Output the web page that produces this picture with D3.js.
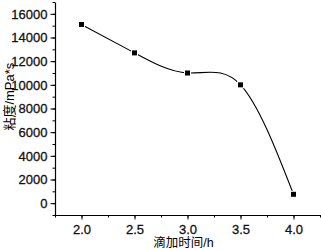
<!DOCTYPE html>
<html>
<head>
<meta charset="utf-8">
<script src="https://cdn.jsdelivr.net/npm/d3@7"></script>
<style>
  body { margin: 0; background: #fff; }
  text { font-family: "Liberation Sans", Arial, sans-serif; }
</style>
</head>
<body>
<div id="chart"></div>
<script>
// data
const times = [2.0, 2.5, 3.0, 3.5, 4.0];
const viscosity = [15100, 12700, 11000, 10000, 750];
const xTicks = [2.0, 2.5, 3.0, 3.5, 4.0];
const yTicks = [0, 2000, 4000, 6000, 8000, 10000, 12000, 14000, 16000];
const xTitle = "滴加时间/h";
const yTitle = "粘度/mPa*s";

const width = 321, height = 250;
const margin = { top: 2, right: 1, bottom: 35, left: 55 };

const svg = d3.select("#chart").append("svg")
  .attr("width", width)
  .attr("height", height);

// scales
const x = d3.scaleLinear()
  .domain([1.75, 4.25])
  .range([margin.left, width - margin.right]);

const y = d3.scaleLinear()
  .domain([-1000, 17000])
  .range([height - margin.bottom, margin.top]);

// minor ticks first
svg.append("g")
  .attr("transform", `translate(0,${height - margin.bottom})`)
  .call(d3.axisBottom(x).tickValues(d3.range(1.75, 4.26, 0.25)).tickSize(2.5).tickFormat(""))
  .call(g => g.select(".domain").remove());

svg.append("g")
  .attr("transform", `translate(${margin.left},0)`)
  .call(d3.axisLeft(y).tickValues(d3.range(-1000, 17001, 1000)).tickSize(2.5).tickFormat(""))
  .call(g => g.select(".domain").remove());

// major axes
const xAxis = svg.append("g")
  .attr("transform", `translate(0,${height - margin.bottom})`)
  .call(d3.axisBottom(x).tickValues(xTicks).tickSize(4.5).tickSizeOuter(0).tickPadding(5)
    .tickFormat(d3.format(".1f")));

const yAxis = svg.append("g")
  .attr("transform", `translate(${margin.left},0)`)
  .call(d3.axisLeft(y).tickValues(yTicks).tickSize(4.5).tickSizeOuter(0).tickPadding(3)
    .tickFormat(d3.format("d")));

[xAxis, yAxis].forEach(g => {
  g.selectAll("text")
    .style("font-size", "13px")
    .style("font-family", "'Liberation Sans', Arial, sans-serif")
    .attr("fill", "#111")
    .attr("stroke", "#111")
    .attr("stroke-width", 0.3);
  g.select(".domain").attr("stroke-width", 1.2);
});

// axis titles
svg.append("text")
  .attr("x", x(3.0) - 4)
  .attr("y", height - 3)
  .attr("text-anchor", "middle")
  .style("font-family", "'Liberation Sans', 'Noto Sans CJK SC', sans-serif")
  .style("font-size", "12.5px")
  .text(xTitle);

svg.append("text")
  .attr("transform", `translate(14,${y(9000)}) rotate(-90)`)
  .attr("text-anchor", "middle")
  .style("font-family", "'Liberation Sans', 'Noto Sans CJK SC', sans-serif")
  .style("font-size", "13px")
  .text(yTitle);

// curve
const pts = times.map((t, i) => ({ t, v: viscosity[i] }));

const line = d3.line()
  .x(d => x(d.t))
  .y(d => y(d.v))
  .curve(d3.curveNatural);

svg.append("path")
  .datum(pts)
  .attr("fill", "none")
  .attr("stroke", "#000")
  .attr("stroke-width", 1.1)
  .attr("d", line);

// square markers with a small white gap like the original
svg.selectAll("rect.pt")
  .data(pts)
  .enter()
  .append("rect")
  .attr("class", "pt")
  .attr("x", d => x(d.t) - 2.5)
  .attr("y", d => y(d.v) - 2.5)
  .attr("width", 5)
  .attr("height", 5)
  .attr("fill", "#000")
  .attr("stroke", "#fff")
  .attr("stroke-width", 2)
  .attr("paint-order", "stroke");
</script>
</body>
</html>
